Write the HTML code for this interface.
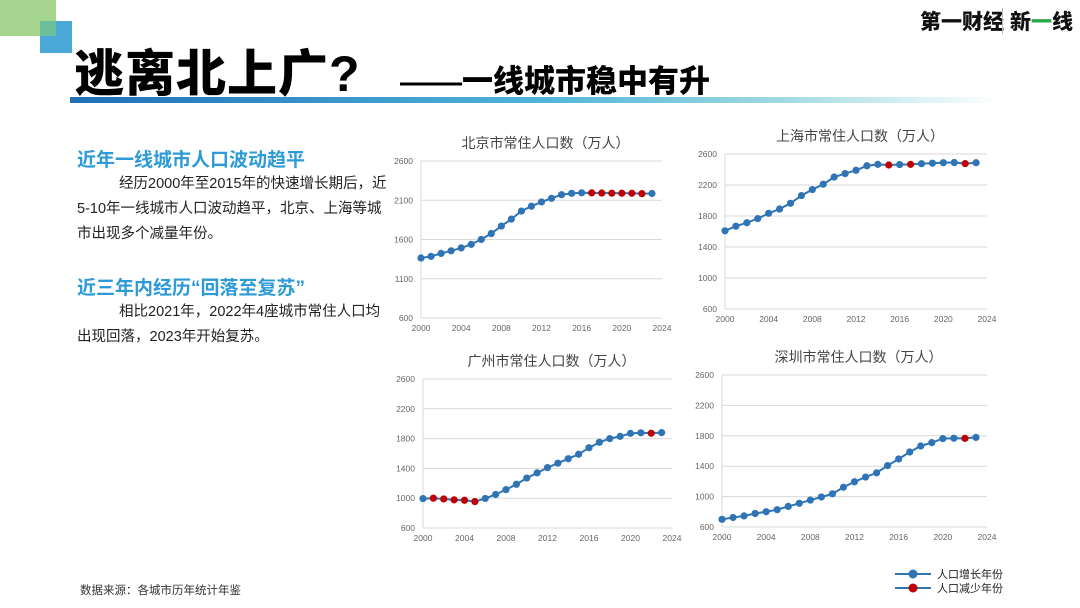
<!DOCTYPE html>
<html><head><meta charset="utf-8">
<style>
body{margin:0;width:1080px;height:608px;background:#fff;position:relative;overflow:hidden;font-family:"Liberation Sans","Noto Sans CJK SC",sans-serif;}
.abs{position:absolute;}
.h{color:#2e9bd6;font-weight:bold;font-size:19px;}
.p{color:#222;font-size:14.5px;line-height:25px;width:310px;}
</style></head><body>
<div class="abs" style="left:0;top:0;width:56px;height:36px;background:#a5d58e"></div>
<div class="abs" style="left:40px;top:21px;width:32px;height:32px;background:#4aa9d8"></div>
<div class="abs" style="left:40px;top:21px;width:16px;height:15px;background:#6bbf9a"></div>
<div class="abs" style="left:74px;top:44px;font-size:50px;font-weight:900;color:#000;letter-spacing:1px;white-space:nowrap;line-height:60px">逃离北上广?</div>
<div class="abs" style="left:400px;top:60px;font-size:31px;font-weight:900;color:#000;white-space:nowrap;line-height:44px">——一线城市稳中有升</div>
<div class="abs" style="left:70px;top:97px;width:930px;height:6px;background:linear-gradient(90deg,#1f6fb8,#4fb3d9 50%,#9ad8e0 75%,rgba(255,255,255,0))"></div>
<div class="abs" style="left:920px;top:6px;font-size:21px;font-weight:900;color:#111;white-space:nowrap">第一财经</div>
<div class="abs" style="left:1002px;top:8px;width:1px;height:26px;background:#bbb"></div>
<div class="abs" style="left:1010px;top:6px;font-size:21px;font-weight:900;color:#111;white-space:nowrap">新<span style="color:#2aa84a">一</span>线</div>

<div class="abs h" style="left:77px;top:145px">近年一线城市人口波动趋平</div>
<div class="abs p" style="left:77px;top:172px;text-indent:42px">经历2000年至2015年的快速增长期后，近5-10年一线城市人口波动趋平，北京、上海等城市出现多个减量年份。</div>
<div class="abs h" style="left:77px;top:273px">近三年内经历“回落至复苏”</div>
<div class="abs p" style="left:77px;top:300px;text-indent:42px">相比2021年，2022年4座城市常住人口均出现回落，2023年开始复苏。</div>
<div class="abs" style="left:80px;top:582px;font-size:11.5px;color:#333">数据来源：各城市历年统计年鉴</div>

<svg class="abs" id="svg" style="left:0;top:0" width="1080" height="608"></svg>
<script>
const years=[2000,2001,2002,2003,2004,2005,2006,2007,2008,2009,2010,2011,2012,2013,2014,2015,2016,2017,2018,2019,2020,2021,2022,2023];
const xTicks=[2000,2004,2008,2012,2016,2020,2024];
const yTicksA=[600,1100,1600,2100,2600];
const yTicksB=[600,1000,1400,1800,2200,2600];
const bjValues=[1364,1385,1423,1456,1493,1538,1601,1676,1771,1860,1962,2024,2078,2125,2171,2188,2195,2194,2192,2190,2189,2189,2184,2186];
const bjDecline=[2017,2018,2019,2020,2021,2022];
const shValues=[1609,1668,1713,1766,1835,1890,1964,2064,2141,2210,2303,2347,2390,2448,2466,2458,2464,2466,2475,2481,2488,2490,2476,2487];
const shDecline=[2015,2017,2022];
const gzValues=[995,1000,990,978,972,955,997,1050,1115,1187,1270,1340,1410,1470,1530,1590,1678,1750,1800,1830,1870,1878,1872,1880];
const gzDecline=[2001,2002,2003,2004,2005,2022];
const szValues=[701,725,746,778,801,828,871,912,954,995,1037,1123,1195,1257,1312,1408,1495,1587,1666,1710,1763,1768,1766,1779];
const szDecline=[2022];
const NS='http://www.w3.org/2000/svg';
const svg=document.getElementById('svg');
function mk(tag,attrs,parent){const e=document.createElementNS(NS,tag);for(const k in attrs)e.setAttribute(k,attrs[k]);(parent||svg).appendChild(e);return e;}
function chart(key,title,values,decline,yTicks,box){
  const g=mk('g',{});
  
  
  const xs=v=>box.x0+(v-2000)/24*(box.x1-box.x0);
  const ys=v=>box.yb+(v-600)/2000*(box.yt-box.yb);
  const t=mk('text',{x:(box.x0+box.x1)/2+4,y:box.yt-13,'text-anchor':'middle','font-size':14,fill:'#444','font-family':'"Liberation Sans","Noto Sans CJK SC",sans-serif'},g);
  t.textContent=title;
  
  
  yTicks.forEach(v=>{
    const l=mk('line',{x1:box.x0,x2:box.x1,y1:ys(v),y2:ys(v),stroke:'#d9d9d9','stroke-width':1},g);
    
    
    const tt=mk('text',{x:box.x0-8,y:ys(v)+3,'text-anchor':'end','font-size':8.5,fill:'#666','font-family':'"Liberation Sans Narrow","Liberation Sans",sans-serif'},g);
    tt.textContent=v;
    
    
  });
  mk('line',{x1:box.x0,x2:box.x0,y1:box.yt,y2:box.yb,stroke:'#d9d9d9'},g);
  xTicks.forEach(v=>{
    const tt=mk('text',{x:xs(v),y:box.yb+13,'text-anchor':'middle','font-size':8.5,fill:'#666','font-family':'"Liberation Sans Narrow","Liberation Sans",sans-serif'},g);
    tt.textContent=v;
    
    
  });
  const pl=mk('polyline',{points:years.map((y,i)=>xs(y)+','+ys(values[i])).join(' '),fill:'none',stroke:'#2f74b5','stroke-width':2},g);
  
  
  years.forEach((y,i)=>{
    const red=decline.includes(y);
    const c=mk('circle',{cx:xs(y),cy:ys(values[i]),r:3.6,fill:red?'#c00000':'#2f74b5'},g);
    
    
  });
}
chart('beijing','北京市常住人口数（万人）',bjValues,bjDecline,yTicksA,{x0:421,x1:662,yt:161,yb:318});
chart('shanghai','上海市常住人口数（万人）',shValues,shDecline,yTicksB,{x0:725,x1:987,yt:154,yb:309});
chart('guangzhou','广州市常住人口数（万人）',gzValues,gzDecline,yTicksB,{x0:423,x1:672,yt:379,yb:528});
chart('shenzhen','深圳市常住人口数（万人）',szValues,szDecline,yTicksB,{x0:722,x1:987,yt:375,yb:527});
[['增长','#2f74b5',574],['减少','#c00000',588]].forEach(([lab,col,y])=>{
  const g=mk('g',{});
  
  
  mk('line',{x1:895,x2:931,y1:y,y2:y,stroke:'#2f74b5','stroke-width':2},g);
  mk('circle',{cx:913,cy:y,r:4.5,fill:col},g);
  const t=mk('text',{x:937,y:y+4,'font-size':11,fill:'#222','font-family':'"Liberation Sans","Noto Sans CJK SC",sans-serif'},g);
  t.textContent='人口'+lab+'年份';
});
</script>
</body></html>
